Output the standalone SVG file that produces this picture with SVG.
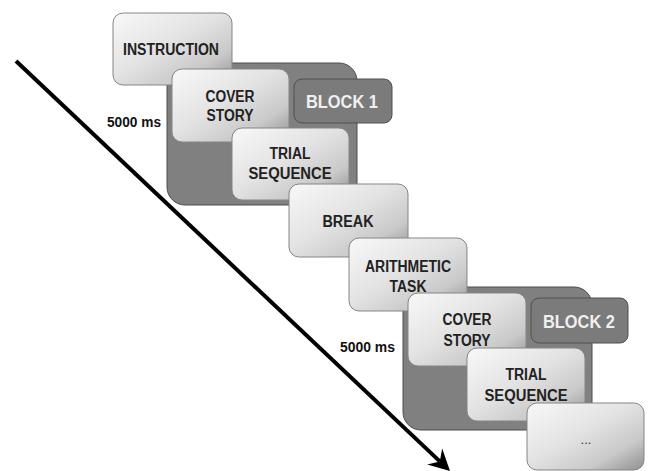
<svg xmlns="http://www.w3.org/2000/svg" width="648" height="471" viewBox="0 0 648 471">
  <defs>
    <linearGradient id="boxGrad" x1="0" y1="0" x2="1" y2="1">
      <stop offset="0" stop-color="#f8f8f8"/>
      <stop offset="0.45" stop-color="#e3e3e3"/>
      <stop offset="0.75" stop-color="#c9c9c9"/>
      <stop offset="1" stop-color="#8f8f8f"/>
    </linearGradient>
  </defs>
  <style>
    .box { fill: url(#boxGrad); stroke: #858585; stroke-width: 1; }
    .bg { fill: #808080; stroke: #4d4d4d; stroke-width: 1; }
    .lbl { fill: #7b7b7b; stroke: #505050; stroke-width: 1; }
    .t { font-family: "Liberation Sans", Arial, sans-serif; font-weight: bold; font-size: 16px; fill: #222; text-anchor: middle; }
    .bt { font-family: "Liberation Sans", Arial, sans-serif; font-weight: bold; font-size: 18px; fill: #f0f0f0; text-anchor: middle; }
    .ms { font-family: "Liberation Sans", Arial, sans-serif; font-weight: bold; font-size: 15px; fill: #111; text-anchor: middle; }
  </style>

  <g id="connectors">
    <line x1="16" y1="61" x2="439.8" y2="461.4" stroke="#000" stroke-width="4"/>
    <polygon points="450,471 427.2,464.6 439.8,461.4 442.2,448.6" fill="#000"/>
  </g>

  <g id="block1">
    <rect class="bg" x="167" y="63" width="190" height="142" rx="18"/>
  </g>

  <g id="instruction">
    <rect class="box" x="113" y="13" width="119" height="72" rx="10"/>
    <text class="t" x="171" y="55" textLength="96" lengthAdjust="spacingAndGlyphs">INSTRUCTION</text>
  </g>

  <g id="cover-story-1">
    <rect class="box" x="172" y="69" width="117" height="73" rx="10"/>
    <text class="t" x="230" y="102" textLength="49" lengthAdjust="spacingAndGlyphs">COVER</text>
    <text class="t" x="230" y="120.5" textLength="47" lengthAdjust="spacingAndGlyphs">STORY</text>
  </g>

  <g id="block1-label">
    <rect class="lbl" x="294" y="79" width="98" height="44" rx="8"/>
    <text class="bt" x="342" y="108" textLength="72" lengthAdjust="spacingAndGlyphs">BLOCK 1</text>
  </g>

  <g id="trial-sequence-1">
    <rect class="box" x="232" y="128" width="117" height="72" rx="10"/>
    <text class="t" x="290" y="159" textLength="41" lengthAdjust="spacingAndGlyphs">TRIAL</text>
    <text class="t" x="290" y="179" textLength="83" lengthAdjust="spacingAndGlyphs">SEQUENCE</text>
  </g>

  <g id="break">
    <rect class="box" x="289" y="184" width="119" height="73" rx="10"/>
    <text class="t" x="348" y="227" textLength="51" lengthAdjust="spacingAndGlyphs">BREAK</text>
  </g>

  <g id="block2">
    <rect class="bg" x="403" y="287" width="189" height="143" rx="18"/>
  </g>

  <g id="arithmetic-task">
    <rect class="box" x="349" y="238" width="118" height="73" rx="10"/>
    <text class="t" x="408" y="272" textLength="86" lengthAdjust="spacingAndGlyphs">ARITHMETIC</text>
    <text class="t" x="408" y="292" textLength="37" lengthAdjust="spacingAndGlyphs">TASK</text>
  </g>

  <g id="cover-story-2">
    <rect class="box" x="408" y="293" width="118" height="73" rx="10"/>
    <text class="t" x="467" y="325" textLength="49" lengthAdjust="spacingAndGlyphs">COVER</text>
    <text class="t" x="467" y="345.5" textLength="47" lengthAdjust="spacingAndGlyphs">STORY</text>
  </g>

  <g id="block2-label">
    <rect class="lbl" x="531" y="298" width="97" height="45" rx="8"/>
    <text class="bt" x="579" y="328" textLength="72" lengthAdjust="spacingAndGlyphs">BLOCK 2</text>
  </g>

  <g id="trial-sequence-2">
    <rect class="box" x="467" y="348" width="118" height="73" rx="10"/>
    <text class="t" x="526" y="380" textLength="41" lengthAdjust="spacingAndGlyphs">TRIAL</text>
    <text class="t" x="526" y="400.5" textLength="83" lengthAdjust="spacingAndGlyphs">SEQUENCE</text>
  </g>

  <g id="ellipsis">
    <rect class="box" x="527" y="403" width="117" height="67" rx="10"/>
    <text class="ms" x="586" y="444" style="font-weight:normal;font-size:13px;fill:#333">...</text>
  </g>

  <g id="timings">
    <text class="ms" x="134" y="127" textLength="54" lengthAdjust="spacingAndGlyphs">5000 ms</text>
    <text class="ms" x="367.5" y="352" textLength="55" lengthAdjust="spacingAndGlyphs">5000 ms</text>
  </g>
</svg>
